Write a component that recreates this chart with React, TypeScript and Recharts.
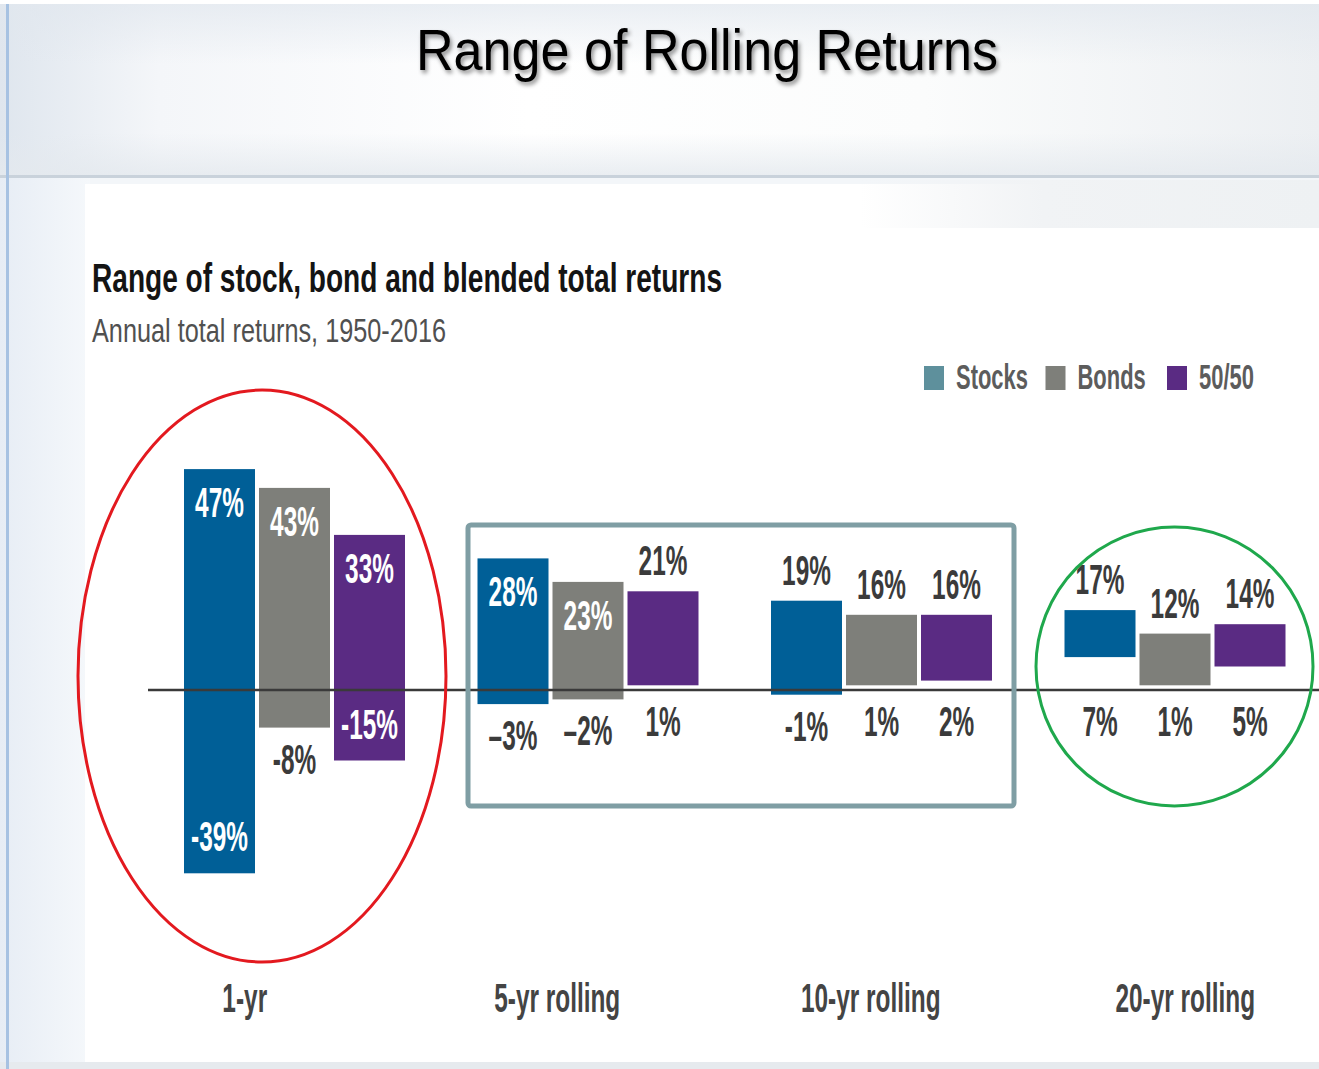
import React from 'react';
import { BarChart, Bar, XAxis, YAxis, ReferenceLine, Legend } from 'recharts';

// ---------- data ----------
const categories = ['1-yr', '5-yr rolling', '10-yr rolling', '20-yr rolling'];
const seriesNames = ['Stocks', 'Bonds', '50/50'];
const stocksLow = [-39, -3, -1, 7];
const stocksHigh = [47, 28, 19, 17];
const bondsLow = [-8, -2, 1, 1];
const bondsHigh = [43, 23, 16, 12];
const blendLow = [-15, 1, 2, 5];
const blendHigh = [33, 21, 16, 14];
const negativeSigns = ['-', '\u2013', '-', '-'];

const barColors = ['#005f97', '#7e7f7a', '#5a2b83'];
const legendColors = ['#5e909c', '#7e7f7a', '#5a2b83'];

type SeriesKey = 'stocks' | 'bonds' | 'blend';
const seriesKeys: SeriesKey[] = ['stocks', 'bonds', 'blend'];

const data = categories.map((category, i) => ({
  category,
  stocks: [stocksLow[i], stocksHigh[i]],
  bonds: [bondsLow[i], bondsHigh[i]],
  blend: [blendLow[i], blendHigh[i]],
}));

// label placement (inside the bar or outside)
const insideTop: Record<SeriesKey, boolean[]> = {
  stocks: [true, true, false, false],
  bonds: [true, true, false, false],
  blend: [true, false, false, false],
};
const insideBottom: Record<SeriesKey, boolean[]> = {
  stocks: [true, false, false, false],
  bonds: [false, false, false, false],
  blend: [true, false, false, false],
};

const FONT = '"Liberation Sans", Arial, Helvetica, sans-serif';

function fmt(v: number, catIndex: number) {
  return v < 0 ? `${negativeSigns[catIndex]}${Math.abs(v)}%` : `${v}%`;
}

function CompText(props: {
  x: number; y: number; text: string; size: number; scale: number; color: string;
  weight?: number; anchor?: 'start' | 'middle' | 'end';
}) {
  const { x, y, text, size, scale, color, weight = 700, anchor = 'middle' } = props;
  return (
    <text
      transform={`translate(${x} ${y}) scale(${scale} 1)`}
      textAnchor={anchor}
      fontSize={size}
      fontFamily={FONT}
      fontWeight={weight}
      fill={color}
    >
      {text}
    </text>
  );
}

const LABEL_SIZE = 42;
const LABEL_SCALE = 0.58;
const LABEL_HALF = 15; // half cap height, center -> baseline

function makeShape(key: SeriesKey) {
  return (props: any) => {
    const { x, y, width, height, fill, payload } = props;
    const ci = categories.indexOf(payload.category);
    const [low, high] = payload[key] as number[];
    const top = Math.min(y, y + height);
    const bottom = Math.max(y, y + height);
    const zeroY = top + (bottom - top) * (high / (high - low));
    const cx = x + width / 2;
    const inTop = insideTop[key][ci];
    const inBot = insideBottom[key][ci];
    const topCenter = inTop ? top + 33 : top - 31;
    const botCenter = inBot ? bottom - 37 : Math.max(bottom, zeroY) + 31;
    return (
      <g>
        <rect x={x} y={top} width={width} height={bottom - top} fill={fill} />
        <CompText x={cx} y={topCenter + LABEL_HALF} text={fmt(high, ci)} size={LABEL_SIZE}
          scale={LABEL_SCALE} color={inTop ? '#ffffff' : '#3b3b3b'} />
        <CompText x={cx} y={botCenter + LABEL_HALF} text={fmt(low, ci)} size={LABEL_SIZE}
          scale={LABEL_SCALE} color={inBot ? '#ffffff' : '#3b3b3b'} />
      </g>
    );
  };
}

const tickShift = [-50, -31, -11, 10];

function CategoryTick(props: any) {
  const { x, y, payload, index } = props;
  return (
    <CompText x={x + (tickShift[index] ?? 0)} y={y + 87} text={payload.value} size={40}
      scale={0.61} color="#444444" />
  );
}

function LegendContent() {
  return (
    <svg width={360} height={44} style={{ display: 'block', overflow: 'visible' }}>
      {seriesNames.map((name, i) => {
        const x0 = i * 121.5;
        return (
          <g key={name}>
            <rect x={x0} y={10} width={20} height={24} fill={legendColors[i]} />
            <CompText x={x0 + 32} y={33} text={name} size={36} scale={0.61} color="#5c5c5c" anchor="start" />
          </g>
        );
      })}
    </svg>
  );
}

export default function App() {
  return (
    <div
      style={{
        position: 'absolute', left: 0, top: 0, width: 1319, height: 1069, overflow: 'hidden',
        background: '#f3f6f9', fontFamily: FONT,
      }}
    >
      {/* header band */}
      <div style={{
        position: 'absolute', left: 0, top: 4, width: 1319, height: 172,
        background: 'linear-gradient(to right, #dfe6ee 0%, #f4f6f9 12%, #ffffff 40%, #fbfcfc 70%, #eceff2 100%)',
      }} />
      <div style={{
        position: 'absolute', left: 0, top: 4, width: 1319, height: 172,
        background: 'linear-gradient(to bottom, rgba(225,231,238,0.7) 0%, rgba(255,255,255,0) 35%, rgba(255,255,255,0) 75%, rgba(228,233,238,0.8) 100%)',
      }} />
      <div style={{ position: 'absolute', left: 0, top: 175, width: 1319, height: 3, background: '#c9d2db' }} />
      {/* left strip below header */}
      <div style={{
        position: 'absolute', left: 0, top: 178, width: 90, height: 891,
        background: 'linear-gradient(to right, #e7edf5 0%, #f5f8fb 100%)',
      }} />
      {/* white panel */}
      <div style={{ position: 'absolute', left: 85, top: 184, width: 1234, height: 878, background: '#ffffff' }} />
      <div style={{
        position: 'absolute', left: 860, top: 180, width: 459, height: 48,
        background: 'linear-gradient(to right, rgba(242,244,246,0) 0%, #f1f3f5 40%, #eef1f3 100%)',
      }} />
      {/* bottom strip */}
      <div style={{ position: 'absolute', left: 0, top: 1062, width: 1319, height: 7, background: '#e6eaee' }} />
      {/* left blue border */}
      <div style={{ position: 'absolute', left: 6, top: 0, width: 3, height: 1069, background: '#a7c2e2' }} />
      <div style={{ position: 'absolute', left: 0, top: 0, width: 1319, height: 4, background: '#ffffff' }} />

      <div style={{ position: 'absolute', left: 0, top: 0 }}>
        <BarChart
          width={1330}
          height={1069}
          data={data}
          margin={{ top: 408, right: 8, left: 148, bottom: 0 }}
          barGap={4}
        >
          <XAxis
            dataKey="category"
            height={144}
            axisLine={false}
            tickLine={false}
            tickSize={0}
            tickMargin={0}
            interval={0}
            tick={<CategoryTick />}
          />
          <YAxis hide width={0} type="number" domain={[-50, 60]} allowDataOverflow />
          <Legend
            layout="horizontal"
            verticalAlign="middle"
            align="center"
            content={<LegendContent />}
            wrapperStyle={{ position: 'absolute', left: 924, top: 356, width: 380 }}
          />
          {seriesKeys.map((k, i) => (
            <Bar
              key={k}
              dataKey={k}
              name={seriesNames[i]}
              fill={barColors[i]}
              barSize={71}
              isAnimationActive={false}
              shape={makeShape(k)}
            />
          ))}
          <ReferenceLine y={0} stroke="#3a3a3a" strokeWidth={2.5} ifOverflow="visible" />
        </BarChart>
      </div>

      {/* overlay: titles and annotations */}
      <svg width={1319} height={1069} style={{ position: 'absolute', left: 0, top: 0, pointerEvents: 'none' }}>
        <defs>
          <filter id="tshadow" x="-10%" y="-30%" width="120%" height="160%">
            <feDropShadow dx="2" dy="3" stdDeviation="2" floodColor="#000000" floodOpacity="0.45" />
          </filter>
        </defs>
        <text x={707} y={70} textAnchor="middle" fontFamily={FONT} fontSize={57} fill="#000000"
          textLength={582} lengthAdjust="spacingAndGlyphs" filter="url(#tshadow)">
          Range of Rolling Returns
        </text>
        <text x={92} y={292} fontFamily={FONT} fontSize={40} fontWeight={700} fill="#141414"
          textLength={630} lengthAdjust="spacingAndGlyphs">
          Range of stock, bond and blended total returns
        </text>
        <text x={92} y={342} fontFamily={FONT} fontSize={33} fill="#505050"
          textLength={354} lengthAdjust="spacingAndGlyphs">
          Annual total returns, 1950-2016
        </text>

        <ellipse cx={262} cy={676} rx={184} ry={286} fill="none" stroke="#e3191f" strokeWidth={3} />
        <rect x={468} y={525} width={546} height={281} rx={3} fill="none" stroke="#7f9ea4" strokeWidth={5} />
        <ellipse cx={1174.5} cy={666.5} rx={138.5} ry={139.5} fill="none" stroke="#1fa84c" strokeWidth={3} />
      </svg>
    </div>
  );
}
